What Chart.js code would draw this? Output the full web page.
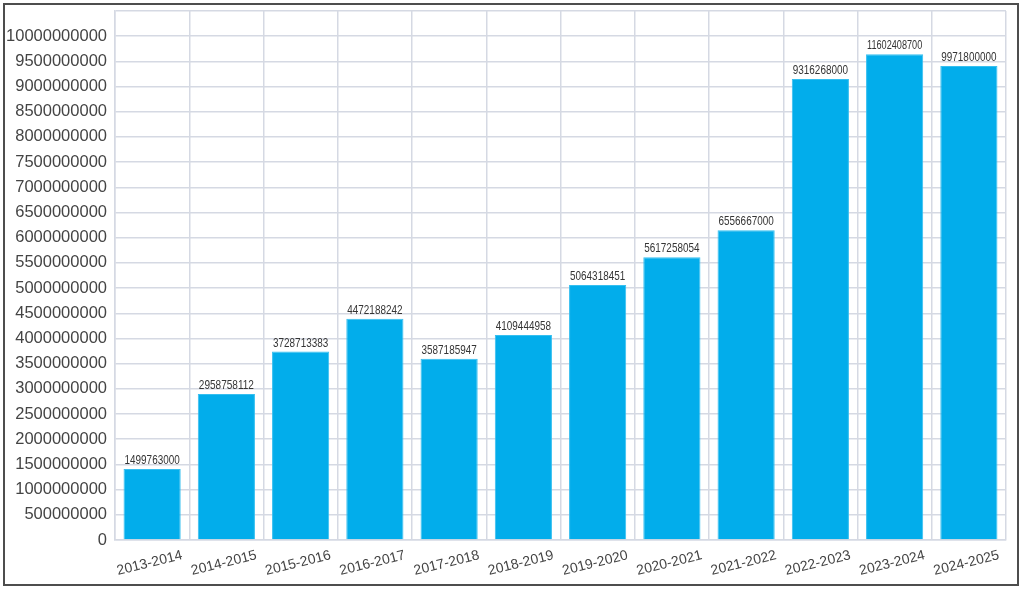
<!DOCTYPE html>
<html>
<head>
<meta charset="utf-8">
<script src="https://cdn.jsdelivr.net/npm/chart.js@4.4.1/dist/chart.umd.min.js"></script>
<style>
  html, body { margin: 0; padding: 0; background: #fff; }
  #wrap { position: relative; width: 1024px; height: 589px; }
  #frame { position: absolute; left: 3px; top: 3px; width: 1012px; height: 579px; border: 2px solid #4d4d4d; }
  canvas { position: absolute; left: 0; top: 0; }
</style>
</head>
<body>
<div id="wrap">
  <div id="frame"></div>
  <canvas id="grafico" width="1024" height="589"></canvas>
</div>
<script>
// anos fiscais
var anos = ['2013-2014','2014-2015','2015-2016','2016-2017','2017-2018','2018-2019',
            '2019-2020','2020-2021','2021-2022','2022-2023','2023-2024','2024-2025'];

// altura das barras como aparecem no grafico
var valores = [1410000000, 2900000000, 3740000000, 4390000000, 3600000000, 4070000000,
               5060000000, 5610000000, 6150000000, 9150000000, 9640000000, 9410000000];

// numeros escritos em cima das barras
var rotulos = ['1499763000','2958758112','3728713383','4472188242','3587185947','4109444958',
               '5064318451','5617258054','6556667000','9316268000','11602408700','9971800000'];

var eixoMax = 10500000000;
var passo = 500000000;

var rotulosPlugin = {
    id: 'rotulos',
    afterDatasetsDraw: function (chart) {
        var ctx = chart.ctx;
        var meta = chart.getDatasetMeta(0);
        ctx.save();
        ctx.textAlign = 'center';
        ctx.textBaseline = 'bottom';
        ctx.fillStyle = '#353535';
        ctx.font = '13.5px "Liberation Sans", Arial, sans-serif';
        meta.data.forEach(function (bar, i) {
            var w = ctx.measureText(rotulos[i]).width;
            // texto estreito, cabe na largura da barra
            var sx = Math.min(0.78, (bar.width - 2) / w);
            ctx.save();
            ctx.translate(bar.x, bar.y - 2);
            ctx.scale(sx, 1);
            ctx.fillText(rotulos[i], 0, 0);
            ctx.restore();
        });
        ctx.restore();
    }
};

var ctx = document.getElementById('grafico').getContext('2d');
var myChart = new Chart(ctx, {
    type: 'bar',
    data: {
        labels: anos,
        datasets: [{
            data: valores,
            backgroundColor: '#02adeb',
            borderColor: '#35bff0',
            borderWidth: 1,
            barPercentage: 0.77,
            categoryPercentage: 1.0
        }]
    },
    options: {
        responsive: false,
        animation: false,
        layout: { padding: { left: 4, right: 18, top: 11, bottom: 4 } },
        plugins: {
            legend: { display: false },
            tooltip: { enabled: false }
        },
        scales: {
            x: {
                grid: { color: '#d5d9e3', lineWidth: 1.5, drawTicks: false },
                border: { color: '#d5d9e3', width: 1.5 },
                ticks: {
                    autoSkip: false,
                    minRotation: 14,
                    maxRotation: 14,
                    labelOffset: 30,
                    padding: 7,
                    color: '#444',
                    font: { family: '"Liberation Sans", Arial, sans-serif', size: 14 }
                },
                afterFit: function (scale) { scale.height = 45; }
            },
            y: {
                min: 0,
                max: eixoMax,
                grid: { color: '#d5d9e3', lineWidth: 1.5, drawTicks: false },
                border: { color: '#d5d9e3', width: 1.5 },
                ticks: {
                    stepSize: passo,
                    padding: 8,
                    color: '#444',
                    font: { family: '"Liberation Sans", Arial, sans-serif', size: 16.5 },
                    callback: function (v) { return v > 10000000000 ? '' : String(v); }
                },
                afterFit: function (scale) {
                    scale.width = 111;
                    scale.paddingTop = 0;
                }
            }
        }
    },
    plugins: [rotulosPlugin]
});
</script>
</body>
</html>
